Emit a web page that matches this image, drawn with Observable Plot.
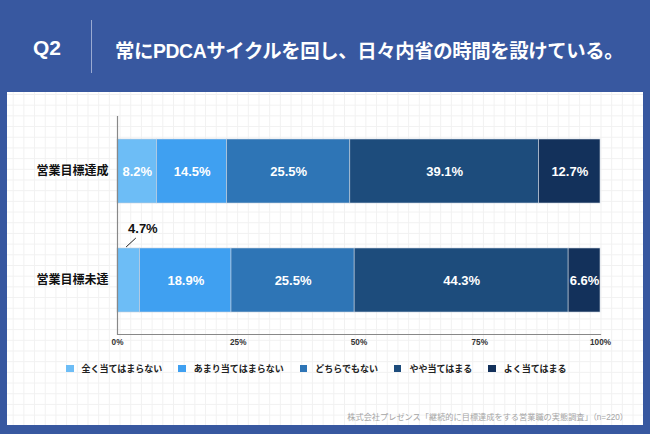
<!DOCTYPE html>
<html><head><meta charset="utf-8">
<script src="https://cdn.jsdelivr.net/npm/d3@7"></script>
<script src="https://cdn.jsdelivr.net/npm/@observablehq/plot@0.6"></script>
<style>
html,body{margin:0;padding:0;}
body{width:650px;height:434px;background:#3858a0;position:relative;overflow:hidden;
 font-family:"Liberation Sans",Arial,"Noto Sans CJK JP",sans-serif;}
#q{position:absolute;left:33px;top:36px;color:#fff;font-size:21px;font-weight:bold;}
#vl{position:absolute;left:91px;top:20px;width:1px;height:53px;background:#9aaad2;}
#title{position:absolute;left:115px;top:35px;color:#fff;font-size:19.4px;font-weight:bold;letter-spacing:-0.4px;}
#panel{position:absolute;left:7px;top:92px;width:636px;height:333px;background-color:#fff;
 background-image:linear-gradient(#f1f1f1 1px,transparent 1px),linear-gradient(90deg,#f1f1f1 1px,transparent 1px);
 background-size:10.7px 10.7px;background-position:-5px 2px;}
#chart{position:absolute;left:0;top:8px;}
#legend{position:absolute;left:59px;top:270px;display:flex;gap:16px;font-size:9px;font-weight:bold;color:#222;}
#legend .it{display:flex;align-items:center;gap:8px;}
#legend .sw{width:7.5px;height:7.5px;display:inline-block;}
#cap{position:absolute;right:15px;top:318px;font-size:8.2px;color:#a5a5a5;}
</style></head>
<body>
<div id="q">Q2</div>
<div id="vl"></div>
<div id="title">常にPDCAサイクルを回し、日々内省の時間を設けている。</div>
<div id="panel">
 <div id="chart"></div>
 <div id="legend"></div>
 <div id="cap">株式会社プレゼンス「継続的に目標達成をする営業職の実態調査」（n=220）</div>
</div>
<script>
const categories = ["営業目標達成", "営業目標未達"];
const responses = ["全く当てはまらない", "あまり当てはまらない", "どちらでもない", "やや当てはまる", "よく当てはまる"];
const achieved = [8.2, 14.5, 25.5, 39.1, 12.7];
const notAchieved = [4.7, 18.9, 25.5, 44.3, 6.6];
const colors = ["#6dbdf6", "#3fa0f1", "#2e75b6", "#1d4c7c", "#13315b"];
const xTicks = [0, 25, 50, 75, 100];

const rows = [];
[achieved, notAchieved].forEach((vals, gi) => {
  vals.forEach((v, ri) => rows.push({group: categories[gi], response: responses[ri], value: v}));
});
const isSmall = d => d.value < 5;
const fmt = d => d.value.toFixed(1) + "%";

const stackOpts = {x: "value", y: "group", z: "response", order: responses};

const chart = Plot.plot({
  width: 636, height: 250,
  marginTop: 16, marginBottom: 16, marginLeft: 110, marginRight: 43,
  style: {fontFamily: '"Liberation Sans", Arial, "Noto Sans CJK JP", sans-serif', background: "transparent", overflow: "visible"},
  x: {domain: [0, 100]},
  y: {type: "band", domain: categories, paddingInner: 0.413, paddingOuter: 0.206},
  color: {domain: responses, range: colors},
  marks: [
    Plot.barX(rows, Plot.stackX({...stackOpts, fill: "response", stroke: "#c5d0de", strokeWidth: 0.6})),
    Plot.text(rows, Plot.stackX({...stackOpts, text: d => isSmall(d) ? "" : fmt(d), fill: "white", fontWeight: "bold", fontSize: 13})),
    Plot.text(rows, Plot.stackX({...stackOpts, text: d => isSmall(d) ? fmt(d) : "", fill: "#111", fontWeight: "bold", fontSize: 13, dx: 14, dy: -52})),
    Plot.ruleX([0], {stroke: "#888", strokeWidth: 1.2}),
    Plot.frame({anchor: "bottom", stroke: "#888", strokeWidth: 1.2}),
    Plot.axisX({ticks: xTicks, tickFormat: d => d + "%", tickSize: 0, tickPadding: 5, fontSize: 8.2, fontWeight: "bold", fill: "#333", label: null}),
    Plot.axisY({tickSize: 0, tickPadding: 9, fontSize: 12, fontWeight: "bold", fill: "#111", label: null})
  ]
});
document.getElementById("chart").appendChild(chart);

// leader line for the small segment, positioned via the plot's scales
const xs = chart.scale("x"), ys = chart.scale("y");
const svg = d3.select(chart);
rows.filter(isSmall).forEach(d => {
  const yTop = ys.apply(d.group);
  svg.append("line")
    .attr("x1", xs.apply(d.value * 0.4)).attr("y1", yTop - 1)
    .attr("x2", xs.apply(d.value * 0.83)).attr("y2", yTop - 10)
    .attr("stroke", "#222").attr("stroke-width", 1);
});

const leg = d3.select("#legend");
responses.forEach((r, i) => {
  const it = leg.append("div").attr("class", "it");
  it.append("span").attr("class", "sw").style("background", colors[i]);
  it.append("span").text(r);
});
</script>
</body></html>
